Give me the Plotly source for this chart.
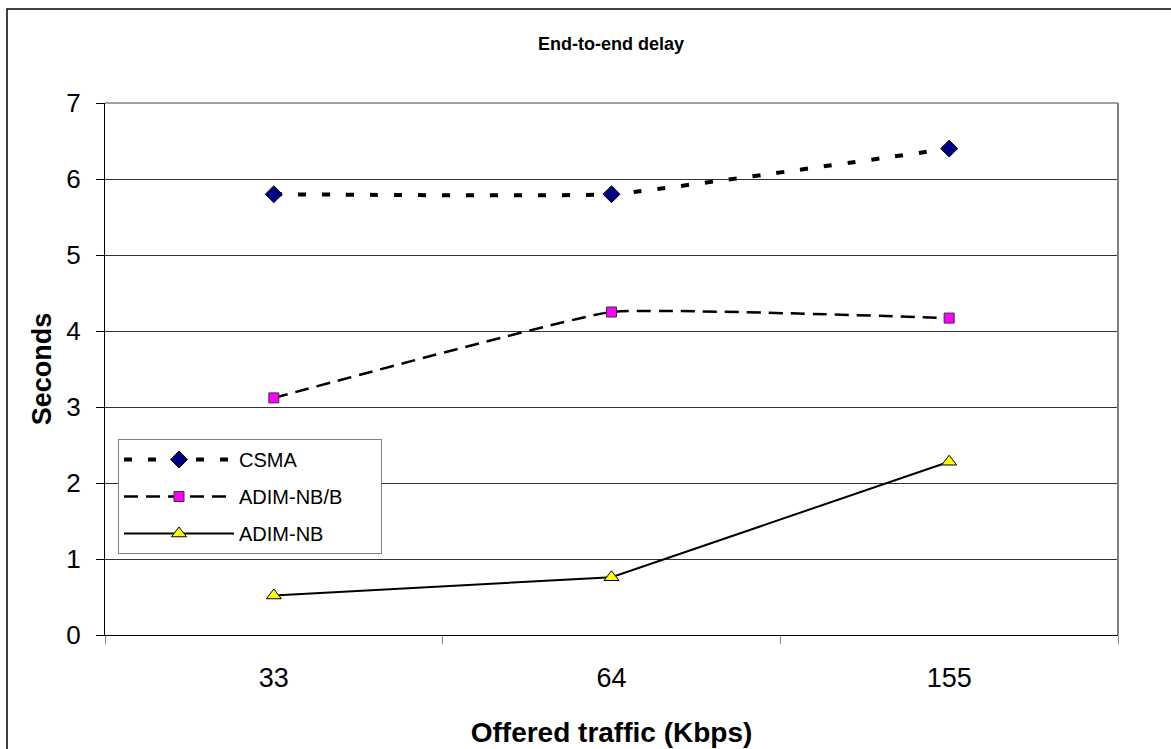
import plotly.graph_objects as go

# ---- data ----
categories = ["33", "64", "155"]
csma = [5.8, 5.8, 6.4]
adim_nb_b = [3.12, 4.25, 4.17]
adim_nb = [0.52, 0.76, 2.28]
y_ticks = [0, 1, 2, 3, 4, 5, 6, 7]
series_names = ["CSMA", "ADIM-NB/B", "ADIM-NB"]

FONT = "Arial, Liberation Sans, sans-serif"
PAD = "\u00a0" * 6

fig = go.Figure()
fig.add_trace(go.Scatter(
    x=categories, y=csma, name=series_names[0], mode="lines+markers", legendgroup="a",
    line=dict(color="black", width=4, dash="8px,16px", shape="spline", smoothing=0.3),
    marker=dict(symbol="diamond", size=13, color="#000080", line=dict(color="black", width=1)),
))
fig.add_trace(go.Scatter(
    x=categories, y=adim_nb_b, name=series_names[1] + PAD, mode="lines+markers", legendgroup="b",
    line=dict(color="black", width=2.5, dash="14px,8px", shape="spline", smoothing=0.3),
    marker=dict(symbol="square", size=10, color="#FF00FF", line=dict(color="#333333", width=1)),
))
fig.add_trace(go.Scatter(
    x=categories, y=adim_nb, name=series_names[2], mode="lines+markers", legendgroup="c",
    line=dict(color="black", width=2),
    marker=dict(symbol="triangle-up", size=13, color="#FFFF00", line=dict(color="black", width=1)),
))

L, R, T, B = 105, 53, 103, 114
W, H = 1171, 749
pw, ph = W - L - R, H - T - B


def px2x(p):
    return (p - L) / pw


def py2y(p):
    return (H - B - p) / ph


fig.update_layout(
    width=W, height=H,
    margin=dict(l=L, r=R, t=T, b=B),
    paper_bgcolor="white", plot_bgcolor="white",
    font=dict(family=FONT, color="black"),
    title=dict(text="<b>End-to-end delay</b>", font=dict(size=18, family=FONT),
               x=611 / W, xanchor="center",
               y=1 - 44 / H, yanchor="middle"),
    showlegend=True,
    legend=dict(
        x=px2x(118), y=py2y(439), xanchor="left", yanchor="top",
        bgcolor="white", bordercolor="#808080", borderwidth=1,
        font=dict(size=20, family=FONT), traceorder="grouped",
        tracegroupgap=8, itemwidth=110,
    ),
    xaxis=dict(
        type="category", tickson="boundaries", ticks="outside", ticklen=8,
        tickcolor="#808080", showline=True, linecolor="black", linewidth=1,
        showgrid=False, tickfont=dict(size=27, family=FONT), range=[-0.5, 2.5],
        title=dict(text="<b>Offered traffic (Kbps)</b>", font=dict(size=28, family=FONT), standoff=29),
        ticklabelstandoff=19, automargin=False,
    ),
    yaxis=dict(
        range=[0, 7], tickvals=y_ticks, ticks="outside", ticklen=8, tickcolor="black",
        showline=True, linecolor="black", linewidth=1,
        showgrid=True, gridcolor="#333333", gridwidth=1,
        tickfont=dict(size=26, family=FONT), zeroline=False,
        title=dict(text="<b>Seconds</b>", font=dict(size=27, family=FONT), standoff=6),
        ticklabelstandoff=10, automargin=False,
    ),
    shapes=[
        dict(type="line", xref="paper", yref="paper", x0=1, x1=1, y0=0, y1=1,
             line=dict(color="#808080", width=2)),
        dict(type="line", xref="paper", yref="paper", x0=0, x1=1, y0=1, y1=1,
             line=dict(color="#808080", width=1.5)),
        dict(type="rect", xref="paper", yref="paper",
             x0=px2x(7), x1=px2x(1180), y0=py2y(760), y1=py2y(9),
             line=dict(color="black", width=1.5), layer="below"),
    ],
)

fig.write_html("out.html")
